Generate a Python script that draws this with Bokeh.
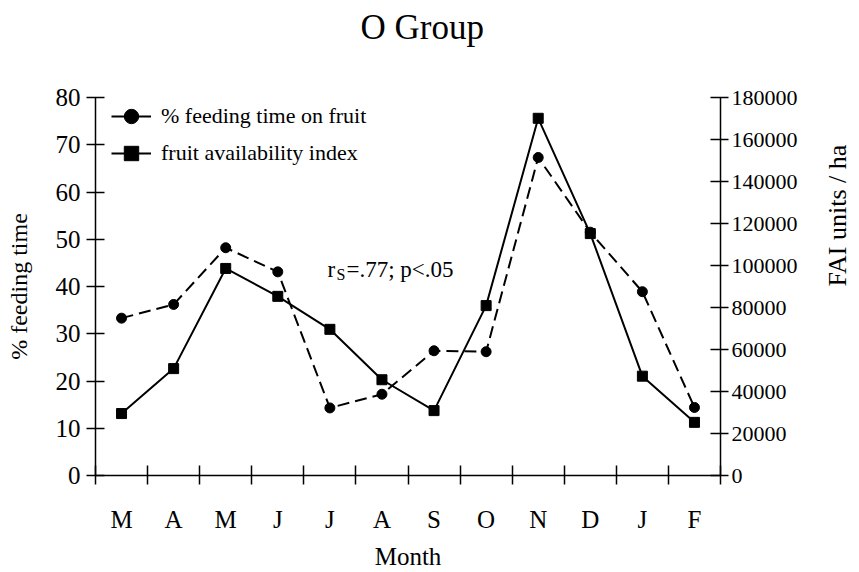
import math
from bokeh.plotting import figure
from bokeh.models import (Range1d, LinearAxis, FixedTicker, Legend, LegendItem,
                          Label, BasicTickFormatter)
from bokeh.embed import file_html
from bokeh.resources import INLINE

# ---- data ----
title_text = "O Group"
months = ["M", "A", "M", "J", "J", "A", "S", "O", "N", "D", "J", "F"]
feeding_pct = [33.3, 36.2, 48.2, 43.1, 14.3, 17.2, 26.4, 26.2, 67.3, 51.5, 38.9, 14.4]
fai_units = [29500, 50900, 98600, 85300, 69600, 45600, 30900, 80900, 170100, 115200, 47300, 25300]
left_ticks = [0, 10, 20, 30, 40, 50, 60, 70, 80]
right_ticks = [0, 20000, 40000, 60000, 80000, 100000, 120000, 140000, 160000, 180000]

x_pos = [i + 0.5 for i in range(len(months))]
x_bounds = list(range(len(months) + 1))

FONT = "Liberation Serif"
NAN = float("nan")

p = figure(frame_width=625, frame_height=378,
           x_range=Range1d(0, len(months)), y_range=Range1d(0, 80),
           output_backend="svg", toolbar_location=None, title=None,
           min_border_left=95, min_border_right=139,
           min_border_top=97, min_border_bottom=97)
p.outline_line_color = None
p.xgrid.visible = False
p.ygrid.visible = False

# x axis: labels at month centers, tick marks (minor) at boundaries
xa = p.xaxis[0]
xa.ticker = FixedTicker(ticks=x_pos, minor_ticks=x_bounds)
xa.major_label_overrides = {xv: m for xv, m in zip(x_pos, months)}
xa.major_tick_in = 0
xa.major_tick_out = 0
xa.minor_tick_in = 10
xa.minor_tick_out = 9
xa.minor_tick_line_color = "black"
xa.minor_tick_line_width = 1.5
xa.axis_line_color = "black"
xa.axis_line_width = 1.5
xa.major_label_standoff = 21
xa.major_label_text_font = FONT
xa.major_label_text_font_size = "25px"
xa.major_label_text_color = "black"
xa.axis_label = "Month"
xa.axis_label_text_font = FONT
xa.axis_label_text_font_size = "25px"
xa.axis_label_text_font_style = "normal"
xa.axis_label_text_color = "black"
xa.axis_label_standoff = 7

# left axis
ya = p.yaxis[0]
ya.ticker = FixedTicker(ticks=left_ticks, minor_ticks=[])
ya.major_tick_in = 9
ya.major_tick_out = 9
ya.major_tick_line_color = "black"
ya.major_tick_line_width = 1.5
ya.axis_line_color = "black"
ya.axis_line_width = 1.5
ya.major_label_standoff = 6
ya.major_label_text_font = FONT
ya.major_label_text_font_size = "25px"
ya.major_label_text_color = "black"
ya.axis_label = "% feeding time"
ya.axis_label_text_font = FONT
ya.axis_label_text_font_size = "24px"
ya.axis_label_text_font_style = "normal"
ya.axis_label_text_color = "black"
ya.axis_label_standoff = 21

# right axis
p.extra_y_ranges = {"fai": Range1d(0, 180000)}
ra = LinearAxis(y_range_name="fai",
                ticker=FixedTicker(ticks=right_ticks, minor_ticks=[]),
                formatter=BasicTickFormatter(use_scientific=False))
ra.major_tick_in = 10
ra.major_tick_out = 8
ra.major_tick_line_color = "black"
ra.major_tick_line_width = 1.5
ra.axis_line_color = "black"
ra.axis_line_width = 1.5
ra.major_label_standoff = 3
ra.major_label_text_font = FONT
ra.major_label_text_font_size = "22px"
ra.major_label_text_color = "black"
ra.axis_label = "FAI units / ha"
ra.axis_label_text_font = FONT
ra.axis_label_text_font_size = "26px"
ra.axis_label_text_font_style = "normal"
ra.axis_label_text_color = "black"
ra.axis_label_standoff = 37
ra.axis_label_orientation = math.pi / 2
p.add_layout(ra, "right")

# series: % feeding time (dashed, circles)
p.line(x_pos, feeding_pct, line_color="black", line_width=2, line_dash="12 6")
p.scatter(x_pos, feeding_pct, marker="circle", size=10,
          fill_color="black", line_color="black")

# series: fruit availability index (solid, squares), right axis
p.line(x_pos, fai_units, line_color="black", line_width=2, y_range_name="fai")
p.scatter(x_pos, fai_units, marker="square", size=10,
          fill_color="black", line_color="black", y_range_name="fai")

# legend-only renderers (solid line + marker for both entries, as in the reference)
lg1 = p.line(x=[NAN], y=[NAN], line_color="black", line_width=2)
mk1 = p.scatter(x=[NAN], y=[NAN], marker="circle", fill_color="black", line_color="black")
lg2 = p.line(x=[NAN], y=[NAN], line_color="black", line_width=2)
mk2 = p.scatter(x=[NAN], y=[NAN], marker="square", fill_color="black", line_color="black")
legend = Legend(items=[LegendItem(label="% feeding time on fruit", renderers=[lg1, mk1]),
                       LegendItem(label="fruit availability index", renderers=[lg2, mk2])],
                location=(16, 304), padding=0, margin=0, spacing=1,
                glyph_width=40, glyph_height=36, label_standoff=10,
                label_text_font=FONT, label_text_font_size="22px",
                label_text_color="black",
                border_line_color=None, background_fill_alpha=0)
p.add_layout(legend)

# title, placed in the panel above the frame
p.add_layout(Label(x=265, y=70, x_units="screen", y_units="screen", text=title_text,
                   text_font=FONT, text_font_size="35px", text_baseline="alphabetic",
                   text_color="black"), "above")

# annotation r_s=.77; p<.05
p.add_layout(Label(x=232, y=206, x_units="screen", y_units="screen", text="r",
                   text_font=FONT, text_font_size="23px", text_baseline="alphabetic",
                   text_color="black"))
p.add_layout(Label(x=241, y=201, x_units="screen", y_units="screen", text="S",
                   text_font=FONT, text_font_size="16px", text_baseline="alphabetic",
                   text_color="black"))
p.add_layout(Label(x=251, y=206, x_units="screen", y_units="screen", text="=.77; p<.05",
                   text_font=FONT, text_font_size="23px", text_baseline="alphabetic",
                   text_color="black"))

open("out.html", "w").write(file_html(p, INLINE))
